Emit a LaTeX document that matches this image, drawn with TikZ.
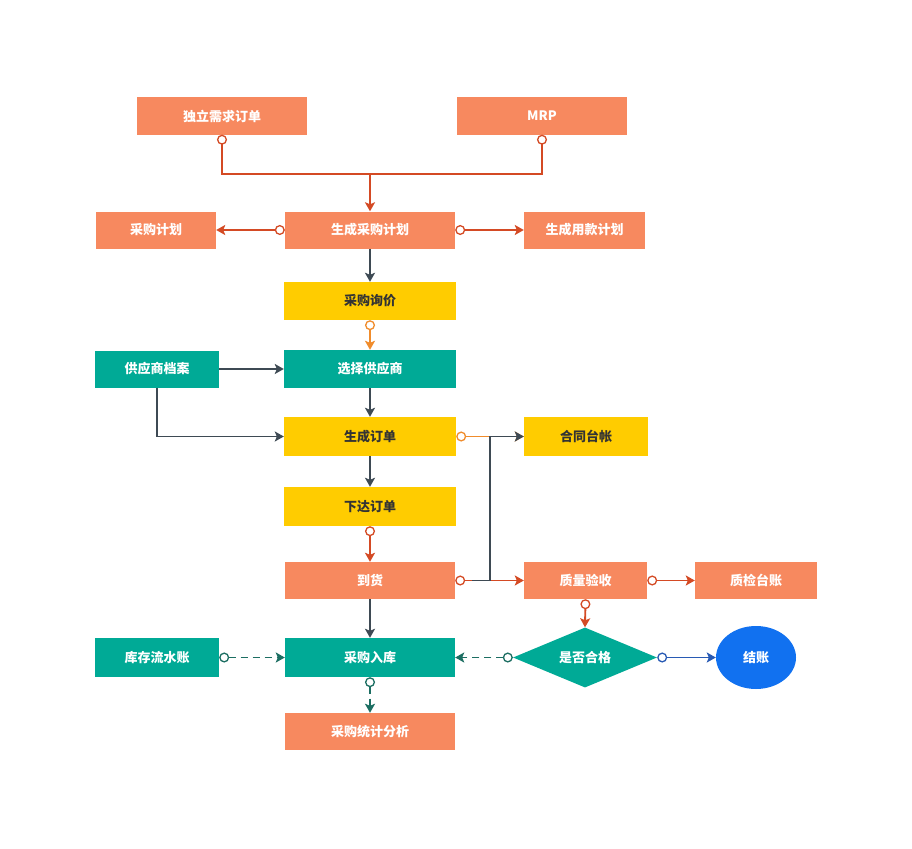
\documentclass[tikz,border=0pt]{standalone}
\usepackage{fontspec}
\newfontfamily\cjk{Noto Sans CJK SC}
\usetikzlibrary{arrows.meta,shapes.geometric,calc}
\definecolor{cOr}{RGB}{247,137,95}
\definecolor{cYe}{RGB}{255,204,0}
\definecolor{cTe}{RGB}{0,170,150}
\definecolor{cBl}{RGB}{17,113,240}
\definecolor{lRed}{RGB}{212,74,36}
\definecolor{lOr}{RGB}{240,140,44}
\definecolor{lDk}{RGB}{62,74,84}
\definecolor{lTe}{RGB}{28,110,98}
\definecolor{lBl}{RGB}{40,90,180}
\begin{document}
\begin{tikzpicture}[x=1pt,y=-1pt,
  fnt/.style={font=\cjk\bfseries\fontsize{13}{15}\selectfont},
  box/.style={rectangle,minimum height=37pt,inner sep=0pt,fnt},
  obox/.style={box,fill=cOr,text=white},
  ybox/.style={box,fill=cYe,text=black!80},
  tbox/.style={box,fill=cTe,text=white},
  conn/.style={line width=1.9pt},
  tipend/.style={-{Stealth[length=9pt,width=10pt,inset=2pt]}},
  circtip/.style={{Circle[open,length=10pt,width=10pt,line width=1.3pt,fill=white]}-{Stealth[length=9pt,width=10pt,inset=2pt]}},
  circonly/.style={{Circle[open,length=10pt,width=10pt,line width=1.3pt,fill=white]}-},
]
\useasboundingbox (0,0) rectangle (912,848);
\fill[white] (0,0) rectangle (912,848);

% nodes
\node[obox,minimum width=170pt] (dl) at (222,116) {独立需求订单};
\node[obox,minimum width=170pt] (mrp) at (542,116) {MRP};
\node[obox,minimum width=120pt] (cgjh) at (156,230) {采购计划};
\node[obox,minimum width=170pt] (sc) at (370,230) {生成采购计划};
\node[obox,minimum width=121pt] (yk) at (584.5,230) {生成用款计划};
\node[ybox,minimum width=172pt,minimum height=38pt] (xj) at (370,301) {采购询价};
\node[tbox,minimum width=124pt] (da) at (157,369) {供应商档案};
\node[tbox,minimum width=172pt,minimum height=38pt] (xz) at (370,369) {选择供应商};
\node[ybox,minimum width=172pt,minimum height=39pt] (dd) at (370,436.5) {生成订单};
\node[ybox,minimum width=124pt,minimum height=39pt] (ht) at (586,436.5) {合同台帐};
\node[ybox,minimum width=172pt,minimum height=39pt] (xd) at (370,506.5) {下达订单};
\node[obox,minimum width=170pt] (dh) at (370,580.5) {到货};
\node[obox,minimum width=123pt] (zl) at (585.5,580.5) {质量验收};
\node[obox,minimum width=122pt] (zj) at (756,580.5) {质检台账};
\node[tbox,minimum width=124pt,minimum height=39pt] (kc) at (157,657.5) {库存流水账};
\node[tbox,minimum width=170pt,minimum height=39pt] (rk) at (370,657.5) {采购入库};
\node[diamond,aspect=2.4,fill=cTe,text=white,inner sep=0pt,minimum width=144pt,minimum height=60pt,fnt] (hg) at (585,657.5) {是否合格};
\node[ellipse,fill=cBl,text=white,inner sep=0pt,minimum width=80pt,minimum height=63pt,fnt] (jz) at (756,657.5) {结账};
\node[obox,minimum width=170pt] (tj) at (370,731.5) {采购统计分析};

\coordinate (j1) at (370,174);
\coordinate (j2) at (490,580.5);
\coordinate (j3) at (472,580.5);

% connectors
\draw[conn,lRed,circtip] (dl.south) |- (j1) -- (sc.north);
\draw[conn,lRed,circonly] (mrp.south) |- (j1);
\draw[conn,lRed,circtip] (sc.west) -- (cgjh.east);
\draw[conn,lRed,circtip] (sc.east) -- (yk.west);
\draw[conn,lDk,tipend] (sc.south) -- (xj.north);
\draw[conn,lOr,circtip] (xj.south) -- (xz.north);
\draw[conn,lDk,tipend] (da.east) -- (xz.west);
\draw[conn,lDk,tipend] (da.south) |- (dd.west);
\draw[conn,lDk,tipend] (xz.south) -- (dd.north);
\draw[conn,lRed,circtip] (dh.east) -- (zl.west);
\draw[conn,lOr,circtip] (dd.east) -- (ht.west);
\draw[conn,lDk,tipend] (j3) -- (j2) |- (ht.west);
\draw[conn,lDk,tipend] (dd.south) -- (xd.north);
\draw[conn,lRed,circtip] (xd.south) -- (dh.north);
\draw[conn,lRed,circtip] (zl.east) -- (zj.west);
\draw[conn,lRed,circtip] (zl.south) -- (hg.north);
\draw[conn,lDk,tipend] (dh.south) -- (rk.north);
\draw[conn,lTe,circtip,dash pattern=on 7pt off 5pt] (kc.east) -- (rk.west);
\draw[conn,lTe,circtip,dash pattern=on 7pt off 5pt] (hg.west) -- (rk.east);
\draw[conn,lBl,circtip] (hg.east) -- (jz.west);
\draw[conn,lTe,circtip,dash pattern=on 7pt off 5pt] (rk.south) -- (tj.north);
\end{tikzpicture}
\end{document}
